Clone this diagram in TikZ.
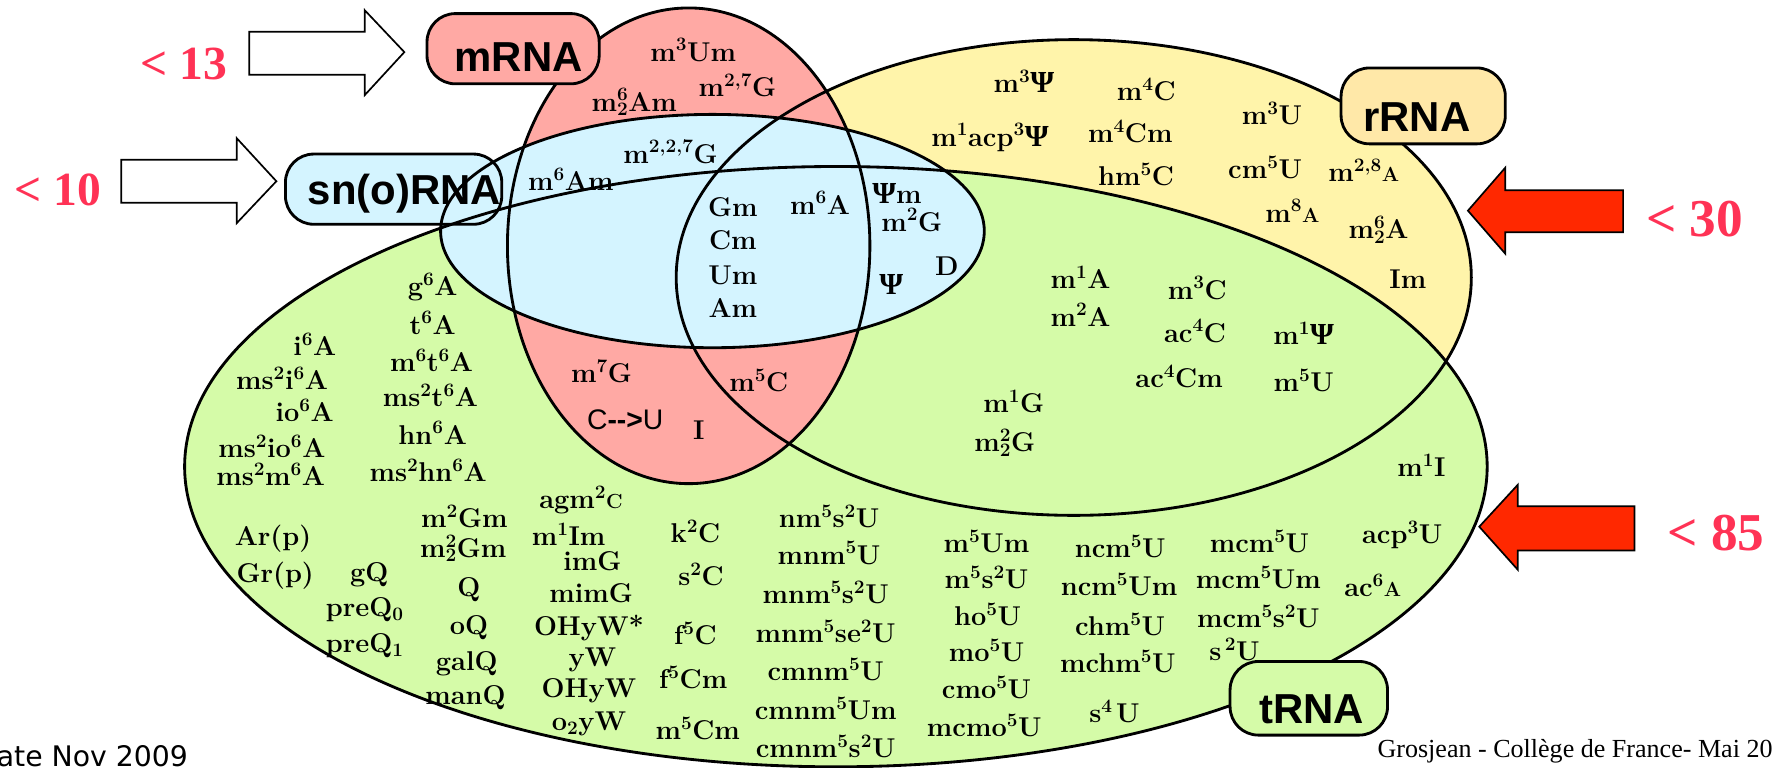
\documentclass[tikz,border=0pt]{standalone}
\usepackage{fontspec}
\newfontfamily\hsans{Liberation Sans}
\newfontfamily\tserif{Liberation Serif}
\newfontfamily\dsans{DejaVu Sans}
\definecolor{redfill}{RGB}{255,169,164}
\definecolor{yellowfill}{RGB}{255,244,170}
\definecolor{greenfill}{RGB}{213,251,168}
\definecolor{bluefill}{RGB}{212,244,255}
\definecolor{rboxfill}{RGB}{255,232,168}
\definecolor{arrowred}{RGB}{255,40,0}
\definecolor{numred}{RGB}{255,50,85}
\newcommand\su[1]{\textsuperscript{#1}}
\newcommand\sbb[1]{\textsubscript{#1}}
\newcommand\susb[2]{\rlap{\textsuperscript{#1}}\textsubscript{#2}}
\newcommand\Ps{{\tserif\bfseries\fontsize{27}{27}\selectfont Ψ}}
\newcommand\smA{{\fontsize{18}{18}\selectfont A}}
\newcommand\smC{{\fontsize{18}{18}\selectfont C}}
\newcommand\lbl[3]{\node[lab] (#1) at (#2) {#3};}
\begin{document}
\begin{tikzpicture}[x=1pt,y=-1pt,
 lab/.style={font=\fontsize{24}{25}\selectfont\bfseries, inner sep=0pt, text height=16pt, text depth=0pt},
 ell/.style={draw=black, line width=2.5pt},
 rndbox/.style={draw=black, line width=2.5pt, rounded corners=25pt, inner sep=0pt},
 btext/.style={font=\hsans\bfseries\fontsize{37}{37}\selectfont, inner sep=0pt, text height=26.5pt, text depth=0pt},
 numl/.style={font=\tserif\bfseries\fontsize{42}{42}\selectfont, text=numred, inner sep=0pt, text height=28pt, text depth=0pt},
 numr/.style={font=\tserif\bfseries\fontsize{47}{47}\selectfont, text=numred, inner sep=0pt, text height=32pt, text depth=0pt},
 warrow/.style={draw=black, line width=1.5pt, fill=white, line join=miter},
 rarrow/.style={draw=black, line width=1.5pt, fill=arrowred, line join=miter}]
\useasboundingbox (0,0) rectangle (1568,678);
% fills
\fill[yellowfill] (948,245) ellipse [x radius=351, y radius=210];
\fill[greenfill] (738,412) ellipse [x radius=575, y radius=265];
\fill[redfill] (608,217) ellipse [x radius=160, y radius=210];
\fill[bluefill] (629,204) ellipse [x radius=240, y radius=103];
\node[rndbox, fill=bluefill, minimum width=191pt, minimum height=62pt] (snobox) at (347.5,167) {};
% outlines
\draw[ell] (948,245) ellipse [x radius=351, y radius=210];
\draw[ell] (738,412) ellipse [x radius=575, y radius=265];
\draw[ell] (608,217) ellipse [x radius=160, y radius=210];
\draw[ell] (629,204) ellipse [x radius=240, y radius=103];
% boxes
\node[rndbox, fill=redfill, minimum width=152pt, minimum height=62pt] (mbox) at (453,43) {};
\node[rndbox, fill=rboxfill, minimum width=145pt, minimum height=67pt] (rrnabox) at (1256.5,93.5) {};
\node[rndbox, fill=greenfill, minimum width=139pt, minimum height=65pt] (trnabox) at (1155.5,616.5) {};
\node[btext] (mrna) at (458,50) {mRNA};
\node[btext] (snorna) at (357,167) {sn(o)RNA};
\node[btext] (rrna) at (1251,103) {rRNA};
\node[btext] (trna) at (1158,625.5) {tRNA};
% arrows
\draw[warrow] (357,46) -- (322,9) -- (322,28) -- (220,28) -- (220,66) -- (322,66) -- (322,84) -- cycle;
\draw[warrow] (244,160) -- (209,122) -- (209,141) -- (107,141) -- (107,179) -- (209,179) -- (209,197) -- cycle;
\draw[rarrow] (1296,186) -- (1329,148) -- (1329,168) -- (1433,168) -- (1433,205) -- (1329,205) -- (1329,224) -- cycle;
\draw[rarrow] (1306,465) -- (1340,428) -- (1340,447) -- (1443,447) -- (1443,486) -- (1340,486) -- (1340,503) -- cycle;
\node[numl] (n13) at (162,56) {< 13};
\node[numl] (n10) at (51,167) {< 10};
\node[numr] (n30) at (1496,193) {< 30};
\node[numr] (n85) at (1515,470) {< 85};
% footer
\node[font=\tserif\fontsize{23}{23}\selectfont, anchor=base west, inner sep=0pt] (credit) at (1216,669) {Grosjean - Collège de France- Mai 20};
\node[font=\dsans\fontsize{25}{25}\selectfont, anchor=base west, inner sep=0pt] (date) at (-3,677) {ate Nov 2009};
% labels: mRNA / snoRNA area
\lbl{a1}{612,46}{m\su{3}Um}
\lbl{a2}{651,77}{m\su{2,7}G}
\lbl{a3}{560,90}{m\susb{6}{2}Am}
\lbl{a4}{592,136}{m\su{2,2,7}G}
\lbl{a5}{504,160}{m\su{6}Am}
\lbl{a6}{647,183}{Gm}
\lbl{a7}{647,212}{Cm}
\lbl{a8}{647,243}{Um}
\lbl{a9}{647,272}{Am}
\lbl{a10}{724,181}{m\su{6}A}
\lbl{a11}{792,172}{\Ps m}
\lbl{a12}{805,196}{m\su{2}G}
\lbl{a13}{836,235}{D}
\lbl{a14}{787,252}{\Ps}
% rRNA
\lbl{b1}{904,74}{m\su{3}\Ps}
\lbl{b2}{874,121}{m\su{1}acp\su{3}\Ps}
\lbl{b3}{1012,81}{m\su{4}C}
\lbl{b4}{998,118}{m\su{4}Cm}
\lbl{b5}{1003,156}{hm\su{5}C}
\lbl{b6}{1123,102}{m\su{3}U}
\lbl{b7}{1117,150}{cm\su{5}U}
\lbl{b8}{1204,152}{m\su{2,8}\smA}
\lbl{b9}{1141,188}{m\su{8}\smA}
\lbl{b10}{1217,203}{m\susb{6}{2}A}
\lbl{b11}{1243,247}{Im}
% rRNA + tRNA
\lbl{c1}{954,247}{m\su{1}A}
\lbl{c2}{954,280}{m\su{2}A}
\lbl{c3}{1057,256}{m\su{3}C}
\lbl{c4}{1055,294}{ac\su{4}C}
\lbl{c5}{1041,334}{ac\su{4}Cm}
\lbl{c6}{1151,296}{m\su{1}\Ps}
\lbl{c7}{1151,338}{m\su{5}U}
\lbl{c8}{895,356}{m\su{1}G}
\lbl{c9}{887,391}{m\susb{2}{2}G}
\lbl{c10}{1255,413}{m\su{1}I}
\lbl{c11}{1238,472}{acp\su{3}U}
\lbl{c12}{1212,519}{ac\su{6}\smA}
% mRNA lower
\lbl{d1}{531,330}{m\su{7}G}
\node[inner sep=0pt, font=\hsans\fontsize{25}{25}\selectfont, text height=18pt, text depth=0pt] (d2) at (552,370) {C\textbf{-{}-{}>}U};
\lbl{d3}{617,380}{I}
\lbl{d4}{670,338}{m\su{5}C}
% tRNA left columns
\lbl{e1}{278,306}{i\su{6}A}
\lbl{e2}{249,336}{ms\su{2}i\su{6}A}
\lbl{e3}{269,364}{io\su{6}A}
\lbl{e4}{240,396}{ms\su{2}io\su{6}A}
\lbl{e5}{239,421}{ms\su{2}m\su{6}A}
\lbl{e6}{382,253}{g\su{6}A}
\lbl{e7}{382,287}{t\su{6}A}
\lbl{e8}{381,320}{m\su{6}t\su{6}A}
\lbl{e9}{380,351}{ms\su{2}t\su{6}A}
\lbl{e10}{382,384}{hn\su{6}A}
\lbl{e11}{378,417}{ms\su{2}hn\su{6}A}
\lbl{f1}{241,474}{Ar(p)}
\lbl{f2}{243,506}{Gr(p)}
\lbl{f3}{326,505}{gQ}
\lbl{f4}{322,536}{preQ\sbb{0}}
\lbl{f5}{322,568}{preQ\sbb{1}}
\lbl{f6}{410,458}{m\su{2}Gm}
\lbl{f7}{409,484}{m\susb{2}{2}Gm}
\lbl{f8}{414,519}{Q}
\lbl{f9}{414,552}{oQ}
\lbl{f10}{412,584}{galQ}
\lbl{f11}{411,614}{manQ}
\lbl{g1}{513,441}{agm\su{2}\smC}
\lbl{g2}{502,474}{m\su{1}Im}
\lbl{g3}{523,496}{imG}
\lbl{g4}{522,524}{mimG}
\lbl{g5}{520,553}{OHyW*}
\lbl{g6}{523,580}{yW}
\lbl{g7}{520,608}{OHyW}
\lbl{g8}{520,637}{o\sbb{2}yW}
\lbl{h1}{614,471}{k\su{2}C}
\lbl{h2}{619,509}{s\su{2}C}
\lbl{h3}{614,561}{f\su{5}C}
\lbl{h4}{612,600}{f\su{5}Cm}
\lbl{h5}{616,645}{m\su{5}Cm}
\lbl{i1}{732,458}{nm\su{5}s\su{2}U}
\lbl{i2}{732,490}{mnm\su{5}U}
\lbl{i3}{729,525}{mnm\su{5}s\su{2}U}
\lbl{i4}{729,559}{mnm\su{5}se\su{2}U}
\lbl{i5}{729,593}{cmnm\su{5}U}
\lbl{i6}{729,627}{cmnm\su{5}Um}
\lbl{i7}{729,661}{cmnm\su{5}s\su{2}U}
\lbl{j1}{871,480}{m\su{5}Um}
\lbl{j2}{871,512}{m\su{5}s\su{2}U}
\lbl{j3}{872,544}{ho\su{5}U}
\lbl{j4}{871,576}{mo\su{5}U}
\lbl{j5}{871,609}{cmo\su{5}U}
\lbl{j6}{869,642}{mcmo\su{5}U}
\lbl{k1}{989,484}{ncm\su{5}U}
\lbl{k2}{988,518}{ncm\su{5}Um}
\lbl{k3}{989,553}{chm\su{5}U}
\lbl{k4}{987,586}{mchm\su{5}U}
\lbl{k5}{984,630}{s\su{4}\hspace{3pt}U}
\lbl{m1}{1112,480}{mcm\su{5}U}
\lbl{m2}{1111,512}{mcm\su{5}Um}
\lbl{m3}{1111,546}{mcm\su{5}s\su{2}U}
\lbl{m4}{1090,575}{s\hspace{3pt}\su{2}U}
\end{tikzpicture}
\end{document}
